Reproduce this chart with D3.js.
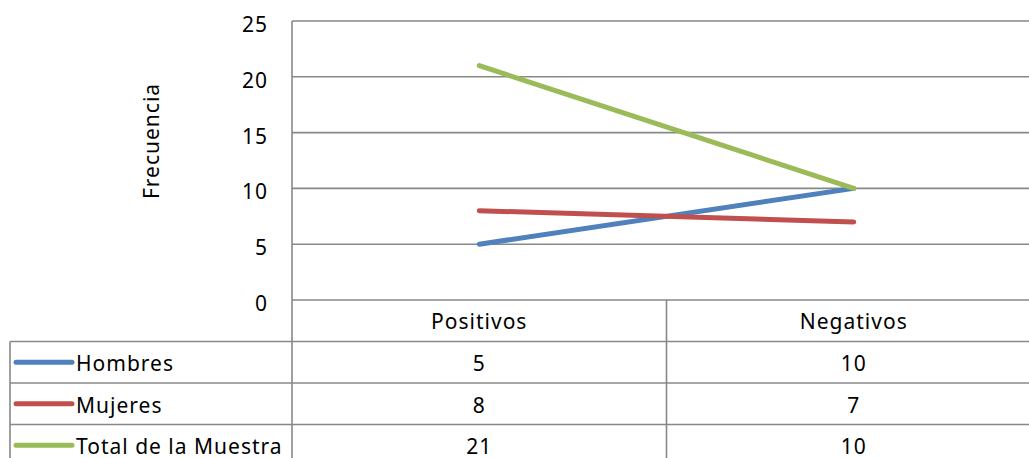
<!DOCTYPE html>
<html lang="es">
<head>
    <meta charset="UTF-8">
    <title>Frecuencia</title>
    <style>
        body {
            margin: 0;
            background: #fff;
            overflow: hidden;
        }
        svg text {
            font-family: 'Noto Sans', sans-serif;
            font-size: 21px;
            letter-spacing: 1px;
            fill: #000;
        }
    </style>
</head>
<body>
    <svg id="chart" width="1029" height="458"></svg>

    <script src="https://d3js.org/d3.v7.min.js"></script>
    <script>
        // data
        const categories = ['Positivos', 'Negativos'];
        const seriesNames = ['Hombres', 'Mujeres', 'Total de la Muestra'];
        const hombres = [5, 10];
        const mujeres = [8, 7];
        const total = [21, 10];
        const yTicks = [0, 5, 10, 15, 20, 25];
        const yTitle = 'Frecuencia';

        const seriesValues = [hombres, mujeres, total];
        const colors = ['#4F81BD', '#C0504D', '#9BBB59'];
        const gridColor = '#888888';

        const plotLeft = 292, plotRight = 1041, plotTop = 21, plotBottom = 300;
        const rowH = 41.5;
        const tableLeft = 10;

        const svg = d3.select('#chart');

        const x = d3.scaleBand().domain(categories).range([plotLeft, plotRight]);
        const y = d3.scaleLinear().domain([0, 25]).range([plotBottom, plotTop]);

        // horizontal gridlines
        svg.append('g')
            .selectAll('line')
            .data(yTicks)
            .join('line')
            .attr('x1', plotLeft)
            .attr('x2', plotRight)
            .attr('y1', d => y(d))
            .attr('y2', d => y(d))
            .attr('stroke', gridColor)
            .attr('stroke-width', 1.6);

        // y tick labels
        svg.append('g')
            .selectAll('text')
            .data(yTicks)
            .join('text')
            .attr('x', 268)
            .attr('y', d => y(d) + 11)
            .attr('text-anchor', 'end')
            .text(d => d);

        // y title
        svg.append('text')
            .attr('transform', 'translate(159,141) rotate(-90)')
            .attr('text-anchor', 'middle')
            .text(yTitle);

        // data table
        const table = svg.append('g');
        const nRows = seriesNames.length;
        const tableBottom = plotBottom + rowH * (nRows + 1);

        // vertical lines
        table.append('line')
            .attr('x1', plotLeft).attr('x2', plotLeft)
            .attr('y1', plotTop).attr('y2', tableBottom)
            .attr('stroke', gridColor).attr('stroke-width', 1.6);
        table.selectAll('line.sep')
            .data(categories.slice(1))
            .join('line')
            .attr('class', 'sep')
            .attr('x1', d => x(d)).attr('x2', d => x(d))
            .attr('y1', plotBottom).attr('y2', tableBottom)
            .attr('stroke', gridColor).attr('stroke-width', 1.6);
        table.append('line')
            .attr('x1', tableLeft).attr('x2', tableLeft)
            .attr('y1', plotBottom + rowH).attr('y2', tableBottom)
            .attr('stroke', gridColor).attr('stroke-width', 1.6);

        // horizontal row lines
        table.selectAll('line.row')
            .data(d3.range(1, nRows + 2))
            .join('line')
            .attr('class', 'row')
            .attr('x1', tableLeft).attr('x2', plotRight)
            .attr('y1', i => plotBottom + rowH * i)
            .attr('y2', i => plotBottom + rowH * i)
            .attr('stroke', gridColor).attr('stroke-width', 1.6);

        // header
        table.selectAll('text.head')
            .data(categories)
            .join('text')
            .attr('class', 'head')
            .attr('x', d => x(d) + x.bandwidth() / 2)
            .attr('y', plotBottom + rowH / 2 + 8)
            .attr('text-anchor', 'middle')
            .text(d => d);

        // rows
        seriesNames.forEach((name, i) => {
            const cy = plotBottom + rowH * (i + 1) + rowH / 2;
            table.append('line')
                .attr('x1', 16).attr('x2', 72)
                .attr('y1', cy).attr('y2', cy)
                .attr('stroke', colors[i])
                .attr('stroke-width', 5)
                .attr('stroke-linecap', 'round');
            table.append('text')
                .attr('x', 76)
                .attr('y', cy + 9)
                .text(name);
            table.selectAll(null)
                .data(seriesValues[i])
                .join('text')
                .attr('x', (d, j) => x(categories[j]) + x.bandwidth() / 2)
                .attr('y', cy + 9)
                .attr('text-anchor', 'middle')
                .text(d => d);
        });

        // lines
        const line = d3.line()
            .x((d, j) => x(categories[j]) + x.bandwidth() / 2)
            .y(d => y(d));

        svg.append('g')
            .selectAll('path')
            .data(seriesValues)
            .join('path')
            .attr('d', d => line(d))
            .attr('fill', 'none')
            .attr('stroke', (d, i) => colors[i])
            .attr('stroke-width', 5)
            .attr('stroke-linecap', 'round');
    </script>
</body>
</html>
